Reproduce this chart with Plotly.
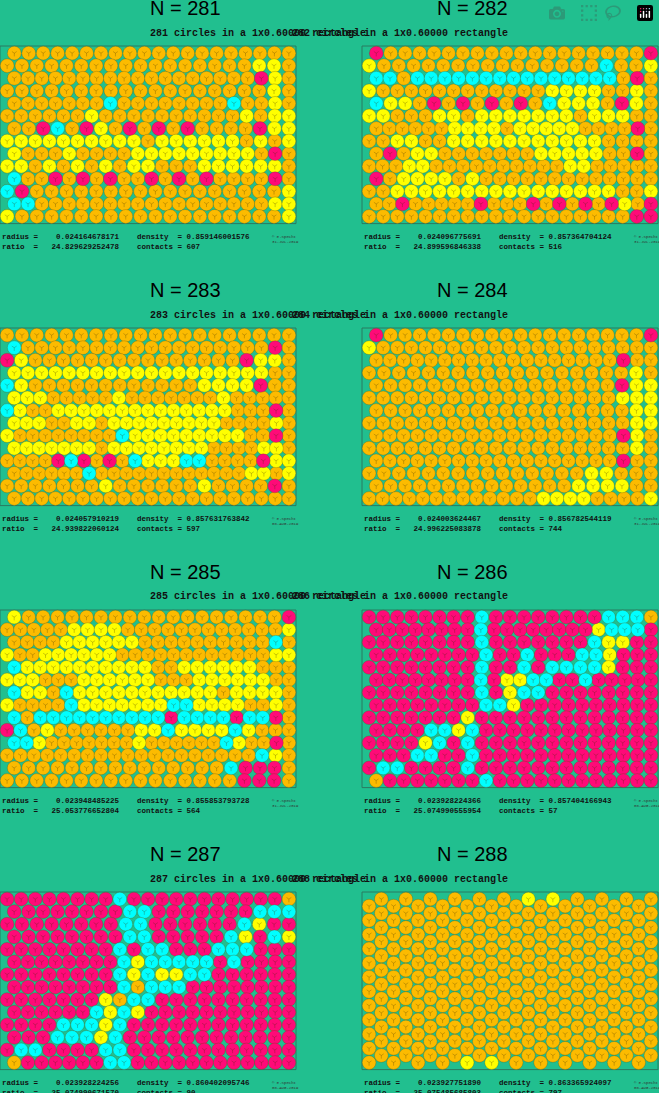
import plotly.graph_objects as go

W, H = 659, 1093
BG = "#21bf8f"
COL = {"o": "#fcbb00", "y": "#ffff00", "m": "#ff0a78", "c": "#00ffff"}

numbers = [281, 282, 283, 284, 285, 286, 287, 288]
radius = ["0.024164678171", "0.024096775691", "0.024057910219", "0.024003624467",
          "0.023948485225", "0.023928224366", "0.023928224256", "0.023927751890"]
density = ["0.859146001576", "0.857364704124", "0.857631763842", "0.856782544119",
           "0.855853793728", "0.857404166943", "0.860402095746", "0.863365924097"]
ratio = ["24.829629252478", "24.899596846338", "24.939822060124", "24.996225083878",
         "25.053776652804", "25.074990555954", "25.074990671570", "25.075485685803"]
contacts = [607, 516, 597, 744, 564, 57, 90, 797]
dates = ["31-JUL-2019", "31-JUL-2019", "08-AUG-2019", "31-JUL-2019",
         "31-JUL-2019", "08-AUG-2019", "08-AUG-2019", "08-AUG-2019"]
first_offset = [True, True, False, True, True, False, False, None]

p281 = ["o"*20, "o"*17+"yyo", "o"*18+"myo", "o"*18+"yo",
        "o"*7+"c"+"o"*8+"c"+"ooyo", "o"*6+"y"+"o"*10+"y"+"oyy",
        "oomcomyomomomoooomyy", "yyyyyyyyyyoyyyyyyoyoy",
        "yoooyoooo"+"y"*9+"omo", "yyoyoyoyoyyoooyyyyyyo",
        "coomomomoomomomoooomo", "cm"+"o"*17+"y", "cc"+"o"*17+"yy", "y"+"o"*18+"y"]
p282 = ["m"+"o"*18+"m", "y"+"o"*15+"cooy", "cco"+"c"*15+"omo",
        "y"+"o"*12+"yyyyooyo", "cyyomomomomocyyyomyo", "yyoooyyoyyyyyyyoyyyoo",
        "ooooooyyyyoyyyyyoooomo", "ooyyooyyyyyyyyyyyoooo", "omoyyoooooooyyyyyoomo",
        "oooyyooooooooooyyooooo", "moyyyyoyooooooooooooo", "ooyyyyyyyyyyyyyyyyooy",
        "oomooooomooomomomomyom", "o"*19+"mm"]
p283 = ["o"*20, "co"+"o"*17+"mo", "my"+"o"*15+"myyo", "y"*19+"oo",
        "cy"+"o"*12+"yyyymoo", "yyyoooooyoooooooyooooo", "cyooyyyyyyyyyyyyyyooomo",
        "yyyooyyoyyyyyyyyyooooyo", "yoooooooocyyyyyyyyyoomo", "yyyyyyyoyyyyyyyyooooyyo",
        "oooomcmomocyyyccoooomyy", "oooooocooooooooooooyyoy", "oooooooyooooooyoooomo",
        "o"*21]
p284 = ["m"+"o"*18+"m", "y"+"o"*20, "o"*18+"moo", "o"*18+"yo", "o"*17+"myy",
        "o"*18+"yyy", "o"*18+"yy", "o"*19+"yy", "o"*18+"myo", "o"*19+"yo",
        "o"*18+"moo", "o"*15+"yyooo", "o"*14+"yyyyoo", "o"*13+"yyyyooooy"]
p285 = ["y"+"o"*18+"m", "oooooyyyyooooooooooooy", "ooooyyyyyyooooooooooco",
        "yooyyyyyyooooooooooooyy", "cyyyyyyyyyyooyyyyyyooo", "yyyoooyyyyyyoooyyyyyyoo",
        "cyyocyyyyyyyyyyyoyyyyo", "yoooocyyyyyyyccyyyyooyo", "coccccccccccmccccmccmo",
        "mcoyooooooyycyyyycyooo", "ccyoooooooyoooooocyoomo", "ooooooooooooooooooocyo",
        "ooooooooooooooocmmmo", "oooooooooooooooommmo"]
p286 = ["m"*8+"c"+"m"*8+"ccco", "m"*8+"c"+"m"*8+"ycccm", "m"*8+"c"+"m"*7+"cyymm",
        "m"*8+"cmmcmmmccymmm", "m"*8+"cmmcmccccymmm", "m"*8+"cmyyccmmcmmmmm",
        "m"*8+"cmyccmmmmmmmm", "m"*8+"ccymmmmmmmmmm", "m"*7+"y"+"m"*13,
        "m"*4+"ccyc"+"m"*13, "m"*4+"ycmc"+"m"*13, "m"*3+"ccmmc"+"m"*13,
        "m"+"cc"+"m"*4+"c"+"m"*13, "o"+"m"*7+"c"+"m"*12]
p287 = ["m"*8+"c"+"m"*11+"o", "m"*8+"cc"+"m"*7+"ccc", "m"*8+"cc"+"m"*6+"cymm",
        "m"*8+"cc"+"m"*5+"cymcy", "m"*8+"cmcc"+"m"*3+"ccc"+"m"*3, "m"*8+"cycccccmc"+"m"*4,
        "m"*8+"cycyycc"+"m"*6, "m"*8+"cocc"+"c"+"m"*8, "m"*7+"yocc"+"m"*10,
        "m"*6+"cycy"+"m"*11, "m"*4+"cccyc"+"m"*12, "m"*3+"cccyc"+"m"*12,
        "m"+"cc"+"m"*4+"cc"+"m"*12, "o"+"m"*6+"cc"+"m"*12]
p288 = ["o"*12]*8 + ["o"*11+"y", "o"*12, "o"*11+"y", "o"*12, "o"*12,
        "y"+"o"*11, "o"*12, "y"+"o"*11] + ["o"*12]*8

panels = [p281, p282, p283, p284, p285, p286, p287, p288]

fig = go.Figure()
PW = 296
SANS = "Liberation Sans"
MONO = "Liberation Mono"
annotations, shapes = [], []

def nb(s):
    return s.replace(" ", "\u00a0")

for idx, n in enumerate(numbers):
    row, colp = divmod(idx, 2)
    x0 = 0 if colp == 0 else 362
    top = 46 + 282 * row
    bot = top + 0.6 * PW
    ax = "" if idx == 0 else str(idx + 1)
    xd = [x0 / W, min((x0 + PW) / W, 1.0)]
    yd = [1 - bot / H, 1 - top / H]
    fig.layout["xaxis" + ax] = dict(domain=xd, range=[0, (xd[1] * W - x0) / PW], visible=False, fixedrange=True)
    fig.layout["yaxis" + ax] = dict(domain=yd, range=[0, 0.6], visible=False, fixedrange=True)
    r = float(radius[idx])
    data = panels[idx]
    pts = {k: ([], []) for k in COL}
    if first_offset[idx] is None:
        nc = len(data)
        for j, s in enumerate(data):
            x = r + j * (1 - 2 * r) / (nc - 1)
            m = len(s)
            ystart = 0.6 - r if j % 2 == 1 else 0.6 - 2 * r
            yend = r if j % 2 == 0 else 2 * r
            for i, ch in enumerate(s):
                y = ystart - i * (ystart - yend) / (m - 1)
                pts[ch][0].append(x); pts[ch][1].append(y)
    else:
        nr = len(data)
        for k, s in enumerate(data):
            y = 0.6 - r - k * (0.6 - 2 * r) / (nr - 1)
            off = (k % 2 == 0) == first_offset[idx]
            m = len(s)
            xs0 = 2 * r if off else r
            for i, ch in enumerate(s):
                x = xs0 + i * (1 - r - xs0) / (m - 1)
                pts[ch][0].append(x); pts[ch][1].append(y)
    for ch, (xs, ys) in pts.items():
        if xs:
            fig.add_trace(go.Scatter(x=xs, y=ys, mode="markers", xaxis="x" + ax, yaxis="y" + ax,
                                     cliponaxis=False,
                                     marker=dict(size=2 * r * PW - 0.4, color=COL[ch],
                                                 line=dict(color="rgba(90,70,0,0.45)", width=0.6)),
                                     hoverinfo="skip", showlegend=False))
            fig.add_trace(go.Scatter(x=xs, y=ys, mode="markers", xaxis="x" + ax, yaxis="y" + ax,
                                     cliponaxis=False,
                                     marker=dict(size=4, symbol="y-down-open", color="rgba(60,50,0,0.45)",
                                                 line=dict(width=0.6)),
                                     hoverinfo="skip", showlegend=False))
    shapes.append(dict(type="rect", xref="paper", yref="paper", x0=xd[0], x1=(x0 + PW) / W, y0=yd[0], y1=yd[1],
                       line=dict(color="#2a7a60", width=1), layer="below"))
    cx = (x0 + PW / 2) / W
    annotations.append(dict(text=f"N = {n}", x=cx, y=1 - (top - 38) / H, xref="paper", yref="paper",
                            showarrow=False, font=dict(family=SANS, size=20, color="black"), yanchor="middle"))
    annotations.append(dict(text=f"<b>{n} circles in a 1x0.60000 rectangle</b>", x=cx, y=1 - (top - 13) / H,
                            xref="paper", yref="paper", showarrow=False,
                            font=dict(family=MONO, size=10, color="#111"), yanchor="middle"))
    line1 = nb(f"radius = {radius[idx]:>17}    density  = {density[idx]}")
    line2 = nb(f"ratio  = {ratio[idx]:>17}    contacts = {contacts[idx]}")
    annotations.append(dict(text=f"<b>{line1}<br>{line2}</b>", x=x0 / W, y=1 - (bot + 7) / H,
                            xref="paper", yref="paper", showarrow=False, xanchor="left", yanchor="top",
                            align="left", font=dict(family=MONO, size=7.5, color="#111")))
    annotations.append(dict(text=f"© E.Specht<br>{dates[idx]}", x=(x0 + 270) / W, y=1 - (bot + 9) / H,
                            xref="paper", yref="paper", showarrow=False, xanchor="left", yanchor="top",
                            align="left", font=dict(family=MONO, size=4, color="#333")))

fig.update_layout(width=W, height=H, margin=dict(l=0, r=0, t=0, b=0),
                  paper_bgcolor=BG, plot_bgcolor=BG, annotations=annotations, shapes=shapes)
fig.write_html("out.html")
with open("out.html", encoding="utf-8") as f:
    html = f.read()
html = html.replace("<head>", "<head><style>html,body{margin:0;padding:0;overflow:hidden;background:%s}</style>" % BG, 1)
with open("out.html", "w", encoding="utf-8") as f:
    f.write(html)
